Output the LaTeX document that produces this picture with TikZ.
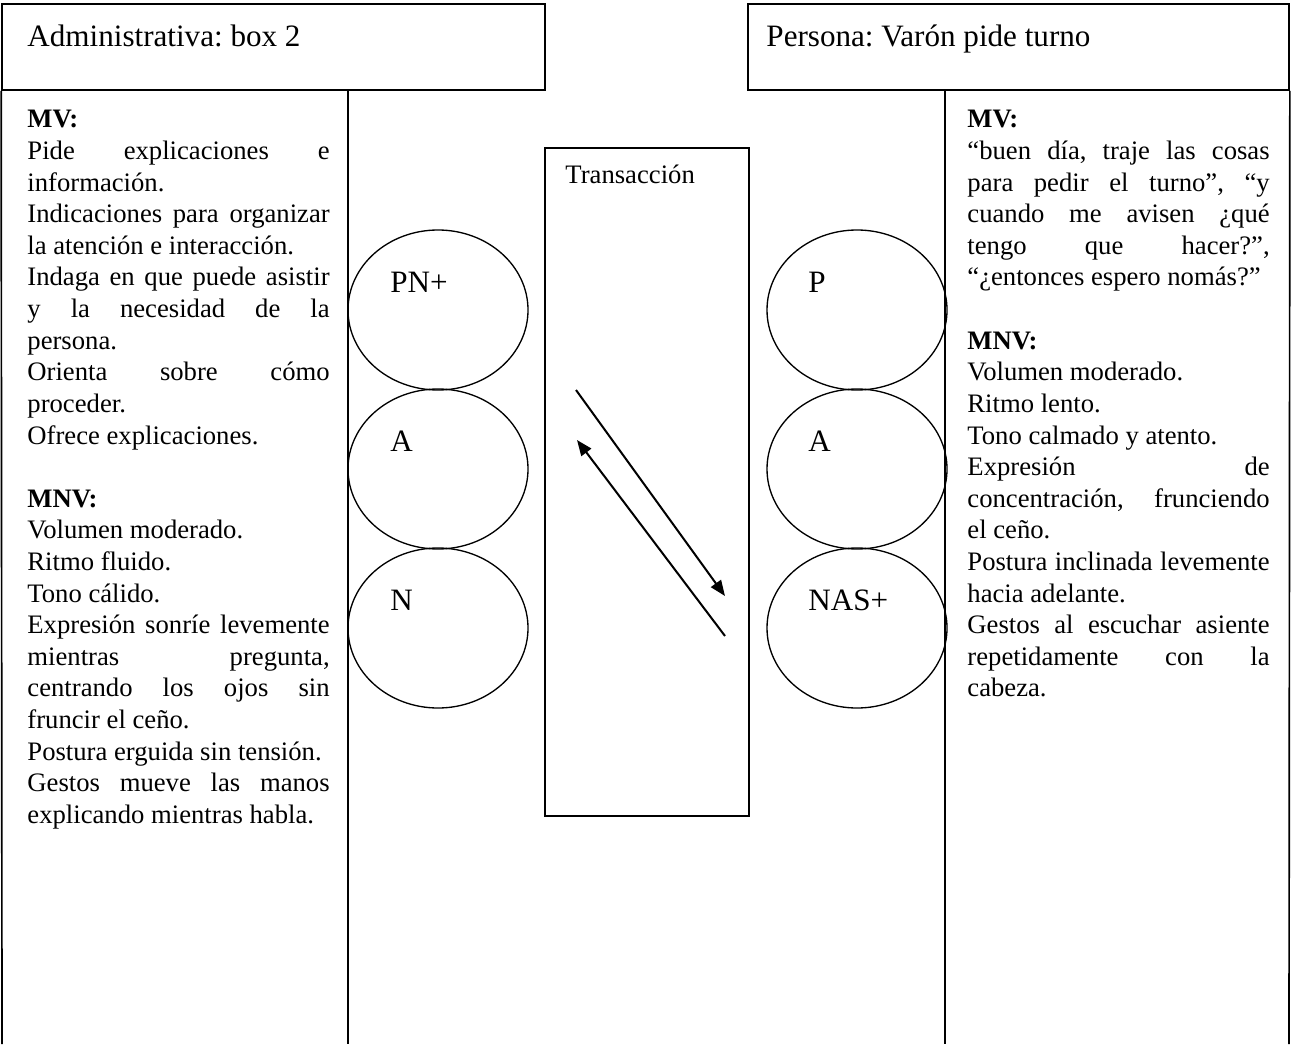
\documentclass[tikz,border=0pt]{standalone}
\usepackage{fontspec}
\setmainfont{Liberation Serif}
\usetikzlibrary{shapes.geometric,arrows.meta,fit}
\tolerance=10000
\hyphenpenalty=10000
\frenchspacing
\begin{document}
\begin{tikzpicture}[x=0.45pt,y=-0.45pt,
  frame/.style={draw,line width=0.75pt,inner sep=0pt},
  rule/.style={line width=0.75pt},
  ego/.style={ellipse,draw,line width=0.6pt,minimum width=81pt,minimum height=72pt,inner sep=0pt},
  egolabel/.style={anchor=base west,inner sep=0pt,font=\fontsize{14}{16}\selectfont},
  head/.style={anchor=base west,inner sep=0pt,font=\fontsize{14}{16}\selectfont},
  body/.style={anchor=base west,inner sep=0pt,text width=136pt,align=justify,font=\fontsize{12}{14.22}\selectfont\frenchspacing},
  flow/.style={line width=0.9pt,-{Triangle[length=7pt,width=5.5pt]}}]
\useasboundingbox (0,0) rectangle (1293,1044);

% header boxes
\coordinate (hlA) at (2,4); \coordinate (hlB) at (545,90);
\node[frame,fit=(hlA)(hlB)] (hl) {};
\coordinate (hrA) at (748,4); \coordinate (hrB) at (1289,90);
\node[frame,fit=(hrA)(hrB)] (hr) {};
\node[head] (th1) at (27,47) {Administrativa: box 2};
\node[head] (th2) at (766,47) {Persona: Varón pide turno};

% column lines
\coordinate (b1) at (2,1044);
\coordinate (t2) at (348,90); \coordinate (b2) at (348,1044);
\coordinate (t3) at (945,90); \coordinate (b3) at (945,1044);
\coordinate (b4) at (1289,1044);
\draw[rule] (hl.south west) -- (b1);
\draw[rule] (t2) -- (b2);
\draw[rule] (t3) -- (b3);
\draw[rule] (hr.south east) -- (b4);

% transaction box
\coordinate (tA) at (545,148); \coordinate (tB) at (749,816);
\node[frame,fit=(tA)(tB)] (tbox) {};
\node[anchor=base west,inner sep=0pt,font=\fontsize{12}{14}\selectfont] (tt) at (565,184) {Transacción};

% ego states
\node[ego] (lp) at (438,310) {};
\node[ego] (la) at (438,469) {};
\node[ego] (ln) at (438,628) {};
\node[ego] (rp) at (857,310) {};
\node[ego] (ra) at (857,469) {};
\node[ego] (rn) at (857,628) {};
\node[egolabel] (lpt) at (390,292) {PN+};
\node[egolabel] (lat) at (390,451) {A};
\node[egolabel] (lnt) at (390,610) {N};
\node[egolabel] (rpt) at (808,292) {P};
\node[egolabel] (rat) at (808,451) {A};
\node[egolabel] (rnt) at (808,610) {NAS+};

% arrows
\coordinate (a1s) at (576,390); \coordinate (a1e) at (725,596);
\coordinate (a2s) at (725,636); \coordinate (a2e) at (577,440);
\draw[flow] (a1s) -- (a1e);
\draw[flow] (a2s) -- (a2e);

% left text
\node[body] (ltxt) at (27,128) {\textbf{MV:}\\
Pide explicaciones e\linebreak información.\\
Indicaciones para organizar\linebreak la atención e interacción.\\
Indaga en que puede asistir\linebreak y la necesidad de la\linebreak persona.\\
Orienta sobre cómo\linebreak proceder.\\
Ofrece explicaciones.\\[14.22pt]
\textbf{MNV:}\\
Volumen moderado.\\
Ritmo fluido.\\
Tono cálido.\\
Expresión sonríe levemente\linebreak mientras pregunta,\linebreak centrando los ojos sin\linebreak fruncir el ceño.\\
Postura erguida sin tensión.\\
Gestos mueve las manos\linebreak explicando mientras habla.};

% right text
\node[body] (rtxt) at (967,128) {\textbf{MV:}\\
“buen día, traje las cosas\linebreak para pedir el turno”, “y\linebreak cuando me avisen ¿qué\linebreak tengo que hacer?”,\linebreak “¿entonces espero nomás?”\\[14.22pt]
\textbf{MNV:}\\
Volumen moderado.\\
Ritmo lento.\\
Tono calmado y atento.\\
Expresión de\linebreak concentración, frunciendo\linebreak el ceño.\\
Postura inclinada levemente\linebreak hacia adelante.\\
Gestos al escuchar asiente\linebreak repetidamente con la\linebreak cabeza.};
\end{tikzpicture}
\end{document}
